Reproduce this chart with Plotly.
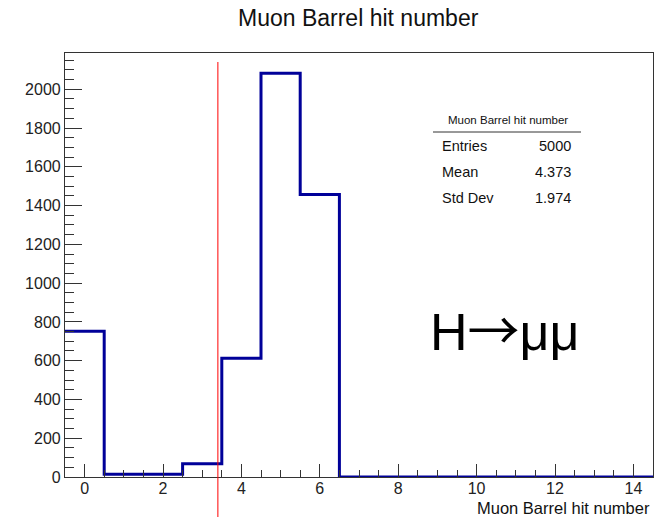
import plotly.graph_objects as go

# Histogram: Muon Barrel hit number, 15 unit-width bins centred on 0..14
bin_centers = list(range(15))
counts = [752, 14, 14, 68, 612, 2083, 1457, 0, 0, 0, 0, 0, 0, 0, 0]

hist_title = "Muon Barrel hit number"
stats_labels = ["Entries", "Mean", "Std Dev"]
stats_values = ["5000", "4.373", "1.974"]
cut_value = 3.4
y_max = 1.05 * max(counts)

# step outline built from the bin edges
edges = [c - 0.5 for c in bin_centers] + [bin_centers[-1] + 0.5]
step_y = counts + [counts[-1]]

W, H = 658, 517
L, R, T, B = 65, 5, 53, 40
pw, ph = W - L - R, H - T - B


def px(x):
    return (x - L) / pw


def py(y):
    return (H - B - y) / ph


font = "Liberation Sans, Arial, sans-serif"

fig = go.Figure()
fig.add_trace(go.Scatter(
    x=edges, y=step_y, mode="lines", line_shape="hv",
    line=dict(color="#000099", width=3), hoverinfo="skip", showlegend=False,
))

axis_common = dict(
    showgrid=False, zeroline=False, showline=True, mirror=True,
    linecolor="#333333", linewidth=1.2, ticks="inside",
    tickcolor="#333333", tickfont=dict(family=font, size=16, color="#222222"),
)
fig.update_xaxes(
    range=[edges[0], edges[-1]], dtick=2, tick0=0, ticklen=13, tickwidth=1,
    ticklabelstandoff=-3,
    minor=dict(dtick=0.5, tick0=0, ticklen=7, ticks="inside", tickcolor="#333333"),
    **axis_common,
)
fig.update_yaxes(
    range=[0, y_max], dtick=200, ticklen=17, tickwidth=1,
    minor=dict(dtick=50, ticklen=9, ticks="inside", tickcolor="#333333"),
    **axis_common,
)

# cut line
fig.add_shape(type="line", xref="x", yref="paper", x0=cut_value, x1=cut_value,
              y0=py(517), y1=py(62), line=dict(color="#ff0000", width=1))

ann = []
ann.append(dict(text=hist_title, xref="paper", yref="paper", x=px(358), y=py(18),
                xanchor="center", yanchor="middle", showarrow=False,
                font=dict(family=font, size=23, color="#111111")))
ann.append(dict(text=hist_title, xref="paper", yref="paper", x=px(652), y=py(507.5),
                xanchor="right", yanchor="middle", showarrow=False,
                font=dict(family=font, size=16.5, color="#111111")))

# statistics box
ann.append(dict(text=hist_title, xref="paper", yref="paper", x=px(508), y=py(120),
                xanchor="center", yanchor="middle", showarrow=False,
                font=dict(family=font, size=11.5, color="#111111")))
fig.add_shape(type="line", xref="paper", yref="paper", x0=px(433), x1=px(581),
              y0=py(132), y1=py(132), line=dict(color="#333333", width=1))
for i, (lab, val) in enumerate(zip(stats_labels, stats_values)):
    yy = py(146 + 26 * i)
    ann.append(dict(text=lab, xref="paper", yref="paper", x=px(440), y=yy,
                    xanchor="left", yanchor="middle", showarrow=False,
                    font=dict(family=font, size=14.5, color="#111111")))
    ann.append(dict(text=val, xref="paper", yref="paper", x=px(573), y=yy,
                    xanchor="right", yanchor="middle", showarrow=False,
                    font=dict(family=font, size=14.5, color="#111111")))

arrow = "<span style='font-family:Noto Sans CJK JP'>→</span>"
ann.append(dict(text="H" + arrow + "μμ", xref="paper", yref="paper", x=px(505), y=py(327),
                xanchor="center", yanchor="middle", showarrow=False,
                font=dict(family=font, size=52, color="#000000")))

fig.update_layout(
    width=W, height=H, margin=dict(l=L, r=R, t=T, b=B),
    paper_bgcolor="white", plot_bgcolor="white", annotations=ann,
)

fig.write_html("out.html")
